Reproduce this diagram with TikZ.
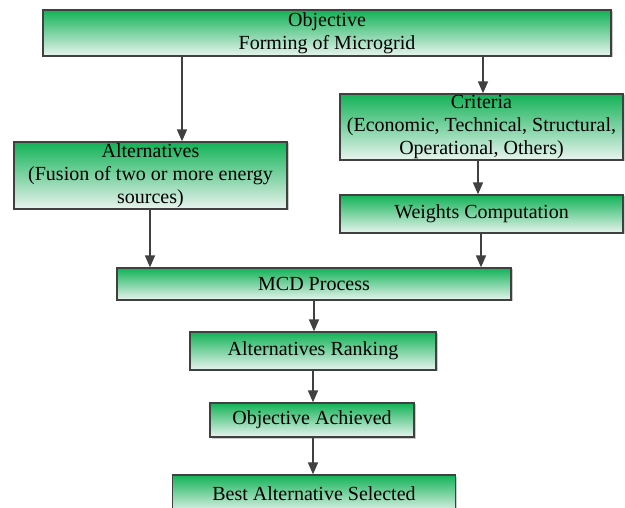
\documentclass[tikz,border=0pt]{standalone}
\usepackage{fontspec}
\setmainfont{Liberation Serif}
\usetikzlibrary{arrows.meta,shadows}
\definecolor{gtop}{HTML}{12B257}
\definecolor{gbot}{HTML}{E9F4EF}
\definecolor{edge}{HTML}{404040}
\tikzset{
  box/.style={draw=edge, line width=1.3pt, top color=gtop, bottom color=gbot,
    drop shadow={shadow xshift=1.5pt, shadow yshift=-1.5pt, fill=black!35, opacity=0.6},
    align=center, inner sep=1pt, font=\fontsize{20}{23}\selectfont,
    minimum width=#1},
  box/.default=100pt,
  arr/.style={draw=edge, line width=1.7pt, -{Triangle[length=12pt,width=10pt]}}
}
\begin{document}
\begin{tikzpicture}[x=1pt,y=-1pt]
\useasboundingbox (0,0) rectangle (625,508);
\node[box=568pt, minimum height=46pt] (obj) at (327,33) {Objective\\Forming of Microgrid};
\node[box=283pt, minimum height=66pt] (cri) at (481.5,127) {Criteria\\(Economic, Technical, Structural,\\Operational, Others)};
\node[box=273pt, minimum height=67pt] (alt) at (150.5,175.5) {Alternatives\\(Fusion of two or more energy\\sources)};
\node[box=283pt, minimum height=38pt] (wei) at (481.5,214) {Weights Computation};
\node[box=394pt, minimum height=32pt] (mcd) at (314,284) {MCD Process};
\node[box=246pt, minimum height=38pt] (ran) at (313,351) {Alternatives Ranking};
\node[box=204pt, minimum height=34pt] (ach) at (312,420) {Objective Achieved};
\node[box=283pt, minimum height=38pt] (bes) at (314,494) {Best Alternative Selected};
\coordinate (xa) at (182,0);
\coordinate (xb) at (483,0);
\coordinate (xc) at (478,0);
\coordinate (xd) at (150,0);
\coordinate (xe) at (481,0);
\coordinate (xf) at (314,0);
\coordinate (xg) at (313,0);
\draw[arr] (obj.south -| xa) -- (alt.north -| xa);
\draw[arr] (obj.south -| xb) -- (cri.north -| xb);
\draw[arr] (cri.south -| xc) -- (wei.north -| xc);
\draw[arr] (alt.south -| xd) -- (mcd.north -| xd);
\draw[arr] (wei.south -| xe) -- (mcd.north -| xe);
\draw[arr] (mcd.south -| xf) -- (ran.north -| xf);
\draw[arr] (ran.south -| xg) -- (ach.north -| xg);
\draw[arr] (ach.south -| xg) -- (bes.north -| xg);
\end{tikzpicture}
\end{document}
